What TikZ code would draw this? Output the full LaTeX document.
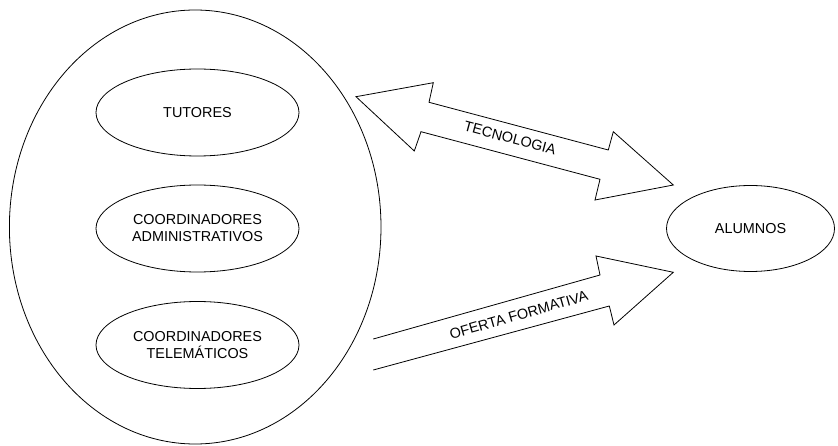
\documentclass[tikz,border=0pt]{standalone}
\usepackage{fontspec}
\setmainfont{Liberation Sans}
\usetikzlibrary{shapes.geometric}
\begin{document}
\begin{tikzpicture}[x=1pt,y=-1pt,
  line width=0.8pt,
  group/.style={draw, ellipse, minimum width=371.6pt, minimum height=434pt, inner sep=0pt},
  actor/.style={draw, ellipse, minimum width=203pt, minimum height=87pt, inner sep=0pt, align=center, font=\fontsize{14.4}{17}\selectfont},
  tag/.style={font=\fontsize{14.4}{17}\selectfont, inner sep=0pt},
  blockarrow/.style={draw, line join=miter}]
\useasboundingbox (0,0) rectangle (838,446);

% outer group and the three inner roles
\node[group] (grupo) at (195.2,227) {};
\node[actor] (tutores) at (197.5,112.5) {TUTORES};
\node[actor] (admin) at (197.5,228.5) {COORDINADORES\\ADMINISTRATIVOS};
\node[actor] (telem) at (197.5,345) {COORDINADORES\\TELEMÁTICOS};

% students
\node[actor, minimum width=168pt, minimum height=86pt] (alumnos) at (750.5,228.5) {ALUMNOS};

% double block arrow: technology
\coordinate (t1) at (356,96.7);
\coordinate (t2) at (433.3,82.7);
\coordinate (t3) at (429,102.3);
\coordinate (t4) at (608.3,150);
\coordinate (t5) at (613.3,131.7);
\coordinate (t6) at (673.3,185);
\coordinate (t7) at (595,200);
\coordinate (t8) at (600,179.3);
\coordinate (t9) at (421,131.7);
\coordinate (t10) at (414.3,151);
\draw[blockarrow] (t1) -- (t2) -- (t3) -- (t4) -- (t5) -- (t6) -- (t7) -- (t8) -- (t9) -- (t10) -- cycle;
\node[tag, rotate=-15] (tecno) at (510,138) {TECNOLOGIA};

% open-tailed block arrow: training offer
\coordinate (o1) at (373.3,339);
\coordinate (o2) at (600,275);
\coordinate (o3) at (596,256);
\coordinate (o4) at (673.3,272.3);
\coordinate (o5) at (614,325);
\coordinate (o6) at (609.3,306);
\coordinate (o7) at (373.3,370);
\draw[blockarrow] (o1) -- (o2) -- (o3) -- (o4) -- (o5) -- (o6) -- (o7);
\node[tag, rotate=16] (oferta) at (518.7,315) {OFERTA FORMATIVA};
\end{tikzpicture}
\end{document}
